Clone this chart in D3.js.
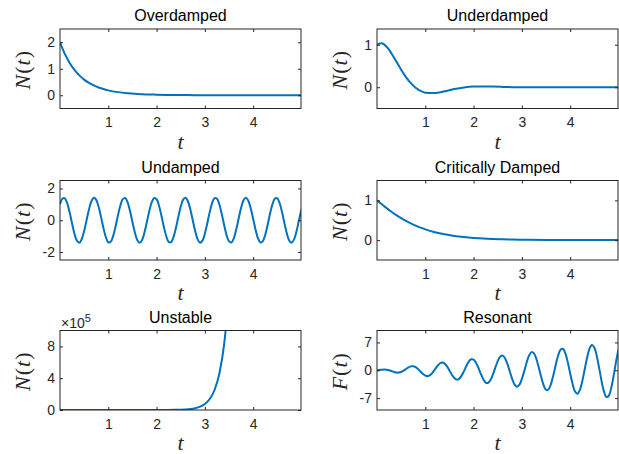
<!DOCTYPE html>
<html>
<head>
<meta charset="utf-8">
<script src="https://cdn.jsdelivr.net/npm/d3@7"></script>
<style>
  body { margin: 0; background: #fff; }
</style>
</head>
<body>
<div id="chart"></div>
<script>
// sample times and values
var tDecay = [0, 0.1, 0.2, 0.3, 0.4, 0.5, 0.6, 0.7, 0.8, 0.9, 1.0, 1.2, 1.4, 1.6, 1.8,
  2.0, 2.2, 2.4, 2.6, 2.8, 3.0, 3.5, 4.0, 4.5, 5.0];

var overdamped = [2.000, 1.560, 1.219, 0.955, 0.751, 0.591, 0.467, 0.369, 0.293, 0.233,
  0.185, 0.118, 0.076, 0.049, 0.032, 0.021, 0.014, 0.009, 0.006, 0.004, 0.003, 0.001,
  0.000, 0.000, 0.000];

var underdamped = [1.000, 1.034, 0.951, 0.795, 0.605, 0.413, 0.239, 0.095, -0.014, -0.086,
  -0.127, -0.137, -0.095, -0.043, -0.005, 0.015, 0.019, 0.015, 0.008, 0.002, -0.002,
  -0.001, 0.000, 0.000, 0.000];

var critical = [1.000, 0.901, 0.804, 0.713, 0.629, 0.552, 0.482, 0.419, 0.363, 0.314,
  0.271, 0.200, 0.146, 0.106, 0.077, 0.055, 0.039, 0.028, 0.020, 0.014, 0.010, 0.004,
  0.002, 0.001, 0.000];

var tGrow = [0, 0.5, 1.0, 1.5, 2.0, 2.2, 2.4, 2.5, 2.6, 2.7, 2.8, 2.9, 3.0, 3.1, 3.2,
  3.3, 3.4, 3.5, 3.6];

var unstable = [0, 0, 0, 9, 188, 624, 2070, 3770, 6870, 12520, 22820, 41580, 75800,
  138100, 251600, 458400, 835300, 1522000, 2773000];

var tWave = [0, 0.05, 0.1, 0.15, 0.2, 0.25, 0.3, 0.35, 0.4, 0.45, 0.5, 0.55, 0.6, 0.65,
  0.7, 0.75, 0.8, 0.85, 0.9, 0.95, 1.0, 1.05, 1.1, 1.15, 1.2, 1.25, 1.3, 1.35, 1.4, 1.45,
  1.5, 1.55, 1.6, 1.65, 1.7, 1.75, 1.8, 1.85, 1.9, 1.95, 2.0, 2.05, 2.1, 2.15, 2.2, 2.25,
  2.3, 2.35, 2.4, 2.45, 2.5, 2.55, 2.6, 2.65, 2.7, 2.75, 2.8, 2.85, 2.9, 2.95, 3.0, 3.05,
  3.1, 3.15, 3.2, 3.25, 3.3, 3.35, 3.4, 3.45, 3.5, 3.55, 3.6, 3.65, 3.7, 3.75, 3.8, 3.85,
  3.9, 3.95, 4.0, 4.05, 4.1, 4.15, 4.2, 4.25, 4.3, 4.35, 4.4, 4.45, 4.5, 4.55, 4.6, 4.65,
  4.7, 4.75, 4.8, 4.85, 4.9, 4.95, 5.0];

var undamped = [1.000, 1.357, 1.382, 1.067, 0.495, -0.203, -0.847, -1.286, -1.410, -1.188,
  -0.675, 0.003, 0.681, 1.192, 1.411, 1.285, 0.844, 0.197, -0.498, -1.069,
  -1.383, -1.356, -0.996, -0.392, 0.307, 0.932, 1.328, 1.399, 1.127, 0.581,
  -0.109, -0.767, -1.243, -1.414, -1.236, -0.756, -0.091, 0.597, 1.138, 1.401,
  1.321, 0.917, 0.289, -0.410, -1.007, -1.362, -1.380, -1.060, -0.482, 0.215,
  0.859, 1.292, 1.409, 1.182, 0.665, -0.016, -0.692, -1.199, -1.411, -1.278,
  -0.834, -0.184, 0.511, 1.081, 1.386, 1.352, 0.987, 0.380, -0.319, -0.940,
  -1.332, -1.398, -1.120, -0.569, 0.122, 0.782, 1.252, 1.414, 1.231, 0.746,
  0.078, -0.609, -1.147, -1.403, -1.317, -0.909, -0.277, 0.422, 1.018, 1.364,
  1.377, 1.052, 0.472, -0.227, -0.867, -1.296, -1.408, -1.176, -0.655, 0.028,
  0.702];

var resonant = [0.000, 0.063, 0.143, 0.186, 0.147, 0.013, -0.194, -0.414, -0.570, -0.591,
  -0.434, -0.116, 0.300, 0.706, 0.980, 1.024, 0.792, 0.315, -0.312, -0.926,
  -1.361, -1.474, -1.209, -0.596, 0.229, 1.066, 1.692, 1.925, 1.672, 0.963,
  -0.048, -1.117, -1.965, -2.358, -2.166, -1.401, -0.229, 1.069, 2.164, 2.759,
  2.678, 1.901, 0.599, -0.918, -2.275, -3.113, -3.192, -2.450, -1.054, 0.672,
  2.298, 3.403, 3.683, 3.033, 1.590, -0.320, -2.214, -3.614, -4.146, -3.640,
  -2.187, -0.132, 2.027, 3.741, 4.559, 4.245, 2.838, 0.676, -1.725, -3.758,
  -4.909, -4.833, -3.540, -1.307, 1.319, 3.682, 5.177, 5.400, 4.264, 2.018,
  -0.801, -3.476, -5.349, -5.910, -4.997, -2.785, 0.178, 3.166, 5.424, 6.361,
  5.712, 3.610, 0.543, -2.724, -5.365, -6.725, -6.415, -4.462, -1.351, 2.166,
  5.209];

var titles = ["Overdamped", "Underdamped", "Undamped", "Critically Damped", "Unstable", "Resonant"];
var xTicks = [1, 2, 3, 4];

var svgWidth = 619;
var svgHeight = 454;

var colLeft = [60, 377];
var rowTop = [29, 180.5, 330.5];
var boxW = 241;
var boxH = 79.5;

var axisColor = "#262626";
var lineColor = "#0072BD";
var sans = "'Liberation Sans', Arial, Helvetica, sans-serif";
var serif = "'Liberation Serif', 'Times New Roman', serif";

var panels = [
  { title: titles[0], t: tDecay, v: overdamped, yDomain: [-0.5, 2.5], yTicks: [0, 1, 2], fn: "N", curve: d3.curveMonotoneX },
  { title: titles[1], t: tDecay, v: underdamped, yDomain: [-0.5, 1.37], yTicks: [0, 1], fn: "N", curve: d3.curveMonotoneX },
  { title: titles[2], t: tWave, v: undamped, yDomain: [-2.5, 2.5], yTicks: [-2, 0, 2], fn: "N", curve: d3.curveCatmullRom },
  { title: titles[3], t: tDecay, v: critical, yDomain: [-0.5, 1.5], yTicks: [0, 1], fn: "N", curve: d3.curveMonotoneX },
  { title: titles[4], t: tGrow, v: unstable, yDomain: [0, 1e6], yTicks: [0, 4e5, 8e5], fn: "N", curve: d3.curveMonotoneX, exp: 5 },
  { title: titles[5], t: tWave, v: resonant, yDomain: [-10, 10], yTicks: [-7, 0, 7], fn: "F", curve: d3.curveCatmullRom }
];

var svg = d3.select("#chart")
  .append("svg")
  .attr("width", svgWidth)
  .attr("height", svgHeight);

panels.forEach(function (p, i) {
  var left = colLeft[i % 2];
  var top = rowTop[Math.floor(i / 2)];

  var x = d3.scaleLinear().domain([0, 4.99]).range([left, left + boxW]);
  var y = d3.scaleLinear().domain(p.yDomain).range([top + boxH, top]);

  var g = svg.append("g");

  // clip so the curve stays inside the box
  var clipId = "clip" + i;
  g.append("clipPath").attr("id", clipId)
    .append("rect")
    .attr("x", left).attr("y", top)
    .attr("width", boxW).attr("height", boxH);

  var line = d3.line()
    .x(function (d) { return x(d[0]); })
    .y(function (d) { return y(d[1]); })
    .curve(p.curve);

  g.append("path")
    .datum(p.t.map(function (t, j) { return [t, p.v[j]]; }))
    .attr("clip-path", "url(#" + clipId + ")")
    .attr("fill", "none")
    .attr("stroke", lineColor)
    .attr("stroke-width", 2)
    .attr("d", line);

  // axes, ticks pointing inward on all four sides
  var fmt = p.exp
    ? function (d) { return String(d / Math.pow(10, p.exp)); }
    : function (d) { return String(d); };

  var bottom = g.append("g")
    .attr("transform", "translate(0," + (top + boxH) + ")")
    .call(d3.axisBottom(x).tickValues(xTicks).tickSizeInner(-3).tickSizeOuter(0)
      .tickPadding(9).tickFormat(function (d) { return String(d); }));
  var topAx = g.append("g")
    .attr("transform", "translate(0," + top + ")")
    .call(d3.axisTop(x).tickValues(xTicks).tickSizeInner(-3).tickSizeOuter(0).tickFormat(""));
  var leftAx = g.append("g")
    .attr("transform", "translate(" + left + ",0)")
    .call(d3.axisLeft(y).tickValues(p.yTicks).tickSizeInner(-3).tickSizeOuter(0).tickPadding(5).tickFormat(fmt));
  var rightAx = g.append("g")
    .attr("transform", "translate(" + (left + boxW) + ",0)")
    .call(d3.axisRight(y).tickValues(p.yTicks).tickSizeInner(-3).tickSizeOuter(0).tickFormat(""));

  [bottom, topAx, leftAx, rightAx].forEach(function (a) {
    a.select(".domain").remove();
    a.selectAll("line").attr("stroke", axisColor);
    a.selectAll("text")
      .attr("fill", axisColor)
      .style("font-family", sans)
      .style("font-size", "14px");
  });

  g.append("rect")
    .attr("x", left).attr("y", top)
    .attr("width", boxW).attr("height", boxH)
    .attr("fill", "none")
    .attr("stroke", axisColor)
    .attr("stroke-width", 1);

  // title
  g.append("text")
    .attr("x", left + boxW / 2)
    .attr("y", top - 8)
    .attr("text-anchor", "middle")
    .attr("fill", "#000")
    .style("font-family", sans)
    .style("font-size", "16px")
    .text(p.title);

  // exponent label
  if (p.exp) {
    var ex = g.append("text")
      .attr("x", left + 1)
      .attr("y", top - 3)
      .attr("fill", axisColor)
      .style("font-family", sans)
      .style("font-size", "14px");
    ex.append("tspan").text("\u00d710");
    ex.append("tspan").attr("dy", -6).style("font-size", "11px").text(p.exp);
  }

  // x label
  g.append("text")
    .attr("x", left + boxW / 2)
    .attr("y", top + boxH + 40)
    .attr("text-anchor", "middle")
    .attr("fill", axisColor)
    .style("font-family", serif)
    .style("font-style", "italic")
    .style("font-size", "22px")
    .text("t");

  // y label
  var yl = g.append("text")
    .attr("transform", "translate(" + (left - 30) + "," + (top + boxH / 2 + 1) + ") rotate(-90)")
    .attr("text-anchor", "middle")
    .attr("fill", axisColor)
    .style("font-family", serif)
    .style("font-size", "22px")
    .style("letter-spacing", "1px");
  yl.append("tspan").style("font-style", "italic").text(p.fn);
  yl.append("tspan").text("(");
  yl.append("tspan").style("font-style", "italic").text("t");
  yl.append("tspan").text(")");
});
</script>
</body>
</html>
